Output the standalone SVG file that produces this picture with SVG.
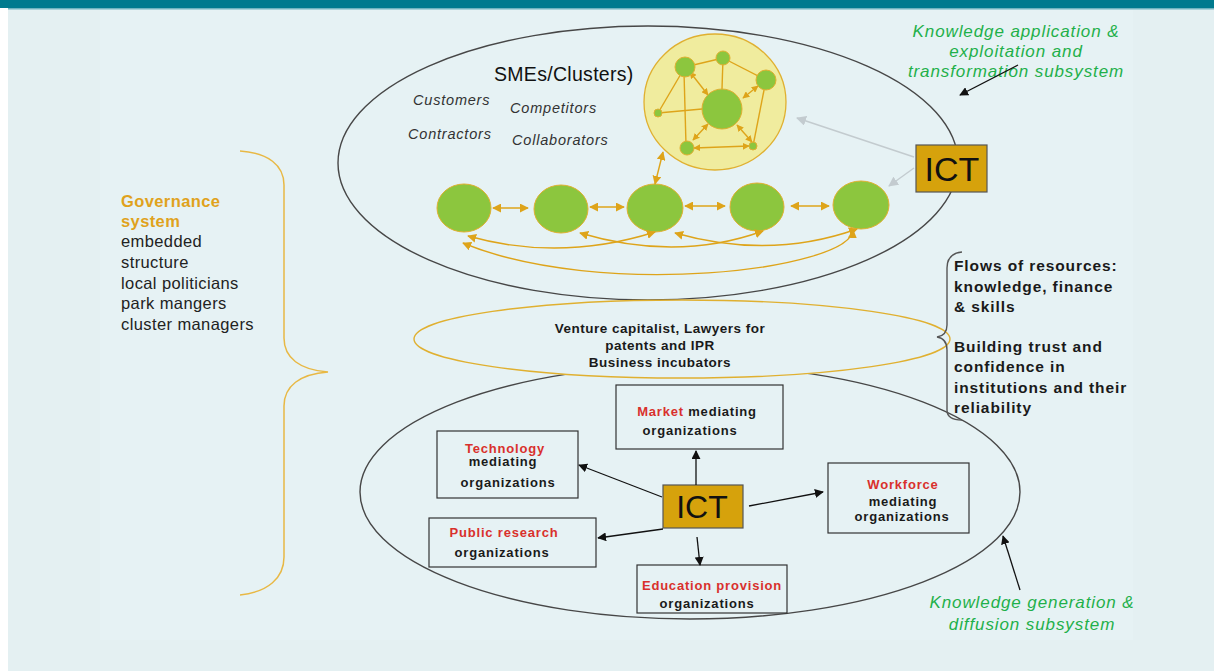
<svg xmlns="http://www.w3.org/2000/svg" width="1214" height="671" viewBox="0 0 1214 671">
<style>
.bg{fill:#e4f0f2}
.ell{fill:none;stroke:#474747;stroke-width:1.4}
.gold{stroke:#dea41a;stroke-width:1.4;fill:none}
.node{fill:#8cc63e;stroke:#e0b030;stroke-width:1}
.box{fill:none;stroke:#333;stroke-width:1.2}
.ict{fill:#d6a20c;stroke:#555;stroke-width:1.2}
.ictt{font-family:"Liberation Sans",Arial,sans-serif;fill:#111;text-anchor:middle}
.it{font-family:"Liberation Sans",Arial,sans-serif;font-style:italic;font-size:14.5px;letter-spacing:0.8px;fill:#333}
.green{font-family:"Liberation Sans",Arial,sans-serif;font-style:italic;font-size:17px;letter-spacing:0.9px;fill:#1fb04a;text-anchor:middle}
.bt{font-family:"Liberation Sans",Arial,sans-serif;font-weight:bold;font-size:13px;letter-spacing:0.8px;fill:#1a1a1a;text-anchor:middle}
.mt{font-family:"Liberation Sans",Arial,sans-serif;font-weight:bold;font-size:13.5px;letter-spacing:0.5px;fill:#1a1a1a;text-anchor:middle}
.red{fill:#d9302c}
.rt{font-family:"Liberation Sans",Arial,sans-serif;font-weight:bold;font-size:15.5px;letter-spacing:0.9px;fill:#1a1a1a}
.gov{font-family:"Liberation Sans",Arial,sans-serif;font-size:16.5px;letter-spacing:0.4px;fill:#222}
.blk{stroke:#111;stroke-width:1.3;fill:none}
.gry{stroke:#c3cbcf;stroke-width:1.4;fill:none}
</style>
<defs>
<marker id="ag" viewBox="0 0 10 10" refX="9" refY="5" markerWidth="9" markerHeight="9" markerUnits="userSpaceOnUse" orient="auto-start-reverse"><path d="M0,0 L10,5 L0,10 z" fill="#dea41a"/></marker>
<marker id="ags" viewBox="0 0 10 10" refX="9" refY="5" markerWidth="7" markerHeight="7" markerUnits="userSpaceOnUse" orient="auto-start-reverse"><path d="M0,0 L10,5 L0,10 z" fill="#dea41a"/></marker>
<marker id="ab" viewBox="0 0 10 10" refX="9" refY="5" markerWidth="9" markerHeight="9" markerUnits="userSpaceOnUse" orient="auto"><path d="M0,0 L10,5 L0,10 z" fill="#111"/></marker>
<marker id="agr" viewBox="0 0 10 10" refX="9" refY="5" markerWidth="10" markerHeight="10" markerUnits="userSpaceOnUse" orient="auto"><path d="M0,0 L10,5 L0,10 z" fill="#c3cbcf"/></marker>
</defs>
<rect x="0" y="0" width="1214" height="671" fill="#ffffff"/>
<rect x="8" y="9" width="1206" height="662" class="bg"/>
<rect x="100" y="10" width="1033" height="630" fill="#e6f2f4"/>
<rect x="0" y="0" width="1214" height="8" fill="#007a8e"/>
<rect x="8" y="8" width="1206" height="1.5" fill="#6fb3bf"/>

<g id="subsystem-application">
<ellipse cx="648" cy="163" rx="310" ry="137" class="ell"/>
<text class="green" x="1016" y="37">Knowledge application &amp;</text>
<text class="green" x="1016" y="57">exploitation and</text>
<text class="green" x="1016" y="77">transformation subsystem</text>
</g>

<g id="subsystem-generation">
<ellipse cx="690" cy="492" rx="330" ry="127" class="ell"/>
<text class="green" x="1032" y="608">Knowledge generation &amp;</text>
<text class="green" x="1032" y="630">diffusion subsystem</text>
</g>

<g id="intermediaries">
<ellipse cx="682" cy="339" rx="268" ry="39" fill="#e6f2f4" stroke="#e0b030" stroke-width="1.4"/>
<text class="mt" x="660" y="333">Venture capitalist, Lawyers for</text>
<text class="mt" x="660" y="350">patents and IPR</text>
<text class="mt" x="660" y="367">Business incubators</text>
</g>

<g id="sme-labels">
<text font-family="'Liberation Sans',Arial,sans-serif" font-size="19.5" letter-spacing="0.3" fill="#111" x="494" y="81">SMEs/Clusters)</text>
<text class="it" x="413" y="105">Customers</text>
<text class="it" x="510" y="113">Competitors</text>
<text class="it" x="408" y="139">Contractors</text>
<text class="it" x="512" y="145">Collaborators</text>
</g>

<g id="cluster">
<ellipse cx="715" cy="102" rx="71" ry="68" fill="#f0ec9e" stroke="#e0b030" stroke-width="1.3"/>
<g class="gold" stroke-width="1.2">
<line x1="685" y1="67" x2="723" y2="58"/>
<line x1="723" y1="58" x2="766" y2="80"/>
<line x1="685" y1="67" x2="658" y2="113"/>
<line x1="658" y1="113" x2="702" y2="109"/>
<line x1="723" y1="58" x2="722" y2="89"/>
<line x1="684" y1="72" x2="686" y2="145"/>
<line x1="766" y1="80" x2="753" y2="146"/>
<line x1="694" y1="148" x2="749" y2="146" marker-start="url(#ags)" marker-end="url(#ags)"/>
<line x1="690" y1="72" x2="708" y2="95" marker-start="url(#ags)" marker-end="url(#ags)"/>
<line x1="758" y1="86" x2="743" y2="98" marker-start="url(#ags)" marker-end="url(#ags)"/>
<line x1="693" y1="140" x2="708" y2="124" marker-start="url(#ags)" marker-end="url(#ags)"/>
<line x1="752" y1="142" x2="737" y2="125" marker-start="url(#ags)" marker-end="url(#ags)"/>
</g>
<circle cx="722" cy="109" r="20" class="node"/>
<circle cx="685" cy="67" r="10" class="node"/>
<circle cx="723" cy="58" r="7" class="node"/>
<circle cx="766" cy="80" r="10" class="node"/>
<circle cx="658" cy="113" r="4" class="node"/>
<circle cx="687" cy="148" r="7" class="node"/>
<circle cx="753" cy="146" r="4" class="node"/>
</g>

<g id="sme1"><ellipse cx="464" cy="208" rx="27" ry="24" class="node"/></g>
<g id="sme2"><ellipse cx="561" cy="209" rx="27" ry="24" class="node"/></g>
<g id="sme3"><ellipse cx="655" cy="208" rx="28" ry="24" class="node"/></g>
<g id="sme4"><ellipse cx="757" cy="207" rx="27" ry="24" class="node"/></g>
<g id="sme5"><ellipse cx="861" cy="205" rx="28" ry="24" class="node"/></g>

<g id="ict-top">
<rect x="916" y="145" width="71" height="47" class="ict"/>
<text class="ictt" font-size="34" x="952" y="181">ICT</text>
</g>

<g id="market"><rect x="616" y="385" width="167" height="64" class="box"/>
<text class="bt" x="697" y="416"><tspan class="red">Market</tspan> mediating</text>
<text class="bt" x="690" y="435">organizations</text></g>

<g id="technology"><rect x="437" y="431" width="141" height="67" class="box"/>
<text class="bt" x="505" y="453"><tspan class="red">Technology</tspan></text>
<text class="bt" x="503" y="466">mediating</text>
<text class="bt" x="508" y="487">organizations</text></g>

<g id="public-research"><rect x="429" y="518" width="167" height="49" class="box"/>
<text class="bt" x="504" y="537"><tspan class="red">Public research</tspan></text>
<text class="bt" x="502" y="557">organizations</text></g>

<g id="education"><rect x="637" y="565" width="150" height="48" class="box"/>
<text class="bt" x="712" y="590"><tspan class="red">Education provision</tspan></text>
<text class="bt" x="707" y="608">organizations</text></g>

<g id="workforce"><rect x="828" y="463" width="141" height="70" class="box"/>
<text class="bt" x="903" y="489"><tspan class="red">Workforce</tspan></text>
<text class="bt" x="903" y="506">mediating</text>
<text class="bt" x="902" y="521">organizations</text></g>

<g id="ict-center">
<rect x="663" y="485" width="80" height="43" class="ict"/>
<text class="ictt" font-size="32" x="702" y="518">ICT</text>
</g>

<g id="governance">
<text class="gov" x="121" y="207" style="fill:#e0a21c;font-weight:bold">Governance</text>
<text class="gov" x="121" y="227" style="fill:#e0a21c;font-weight:bold">system</text>
<text class="gov" x="121" y="247">embedded</text>
<text class="gov" x="121" y="268">structure</text>
<text class="gov" x="121" y="289">local politicians</text>
<text class="gov" x="121" y="309">park mangers</text>
<text class="gov" x="121" y="330">cluster managers</text>
<path d="M240,151 C268,153 284,165 284,185 L284,338 C284,358 300,370 328,372 C300,374 284,386 284,406 L284,557 C284,578 268,592 240,595" fill="none" stroke="#e8b844" stroke-width="1.5"/>
</g>

<g id="flows">
<path d="M962,252 C952,253 947,258 947,268 L947,325 C947,332 944,336 937,337 C944,338 947,342 947,350 L947,410 C947,416 952,420 962,420" fill="none" stroke="#555" stroke-width="1.4"/>
<text class="rt" x="954" y="271">Flows of resources:</text>
<text class="rt" x="954" y="292">knowledge, finance</text>
<text class="rt" x="954" y="312">&amp; skills</text>
<text class="rt" x="954" y="352">Building trust and</text>
<text class="rt" x="954" y="372">confidence in</text>
<text class="rt" x="954" y="393">institutions and their</text>
<text class="rt" x="954" y="413">reliability</text>
</g>

<g id="connectors">
<g class="gold">
<line x1="493" y1="208" x2="528" y2="208" marker-start="url(#ag)" marker-end="url(#ag)"/>
<line x1="590" y1="207" x2="624" y2="207" marker-start="url(#ag)" marker-end="url(#ag)"/>
<line x1="685" y1="206" x2="725" y2="206" marker-start="url(#ag)" marker-end="url(#ag)"/>
<line x1="791" y1="206" x2="829" y2="206" marker-start="url(#ag)" marker-end="url(#ag)"/>
<line x1="663" y1="152" x2="655" y2="184" marker-start="url(#ag)" marker-end="url(#ag)"/>
<path d="M468,236 Q560,262 655,232" marker-start="url(#ag)" marker-end="url(#ag)"/>
<path d="M580,233 Q677,262 763,231" marker-start="url(#ag)" marker-end="url(#ag)"/>
<path d="M675,233 Q770,260 857,229" marker-start="url(#ag)" marker-end="url(#ag)"/>
<path d="M463,243 C600,300 850,270 853,230" marker-start="url(#ag)" marker-end="url(#ag)"/>
</g>
<line x1="914" y1="157" x2="797" y2="118" class="gry" marker-end="url(#agr)"/>
<line x1="914" y1="168" x2="889" y2="186" class="gry" marker-end="url(#agr)"/>
<line x1="1018" y1="65" x2="960" y2="95" class="blk" marker-end="url(#ab)"/>
<line x1="1020" y1="590" x2="1003" y2="536" class="blk" marker-end="url(#ab)"/>
<line x1="696" y1="485" x2="696" y2="451" class="blk" marker-end="url(#ab)"/>
<line x1="662" y1="497" x2="579" y2="465" class="blk" marker-end="url(#ab)"/>
<line x1="663" y1="529" x2="598" y2="538" class="blk" marker-end="url(#ab)"/>
<line x1="697" y1="537" x2="700" y2="565" class="blk" marker-end="url(#ab)"/>
<line x1="749" y1="506" x2="823" y2="492" class="blk" marker-end="url(#ab)"/>
</g>
</svg>
